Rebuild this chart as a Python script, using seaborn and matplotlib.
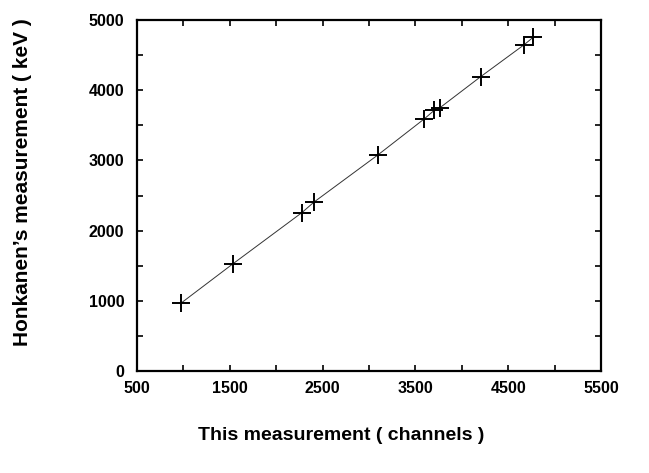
import matplotlib
matplotlib.use("Agg")
import matplotlib.pyplot as plt
import seaborn as sns
import pandas as pd
from matplotlib.ticker import MultipleLocator, FixedLocator

# channel positions (this measurement) vs Honkanen energies (keV)
channels = [970, 1530, 2275, 2410, 3095, 3595, 3705, 3765, 4205, 4670, 4770]
energies = [965, 1525, 2255, 2410, 3077, 3590, 3715, 3750, 4193, 4644, 4753]
x_ticks = [500, 1500, 2500, 3500, 4500, 5500]
y_ticks = [0, 1000, 2000, 3000, 4000, 5000]

df = pd.DataFrame({"channel": channels, "energy": energies})

sns.set_style("ticks")
plt.rcParams["font.family"] = ["Liberation Sans", "DejaVu Sans"]
plt.rcParams["font.weight"] = "bold"
plt.rcParams["text.color"] = "black"
plt.rcParams["xtick.labelcolor"] = "black"
plt.rcParams["ytick.labelcolor"] = "black"

fig = plt.figure(figsize=(6.49, 4.73), dpi=100)
ax = fig.add_axes([0.211, 0.215, 0.715, 0.743])

sns.lineplot(data=df, x="channel", y="energy", ax=ax, color="#333333",
             linewidth=0.7, sort=True)
sns.scatterplot(data=df, x="channel", y="energy", ax=ax, marker="+",
                s=160, color="black", linewidth=1.4, zorder=3)

ax.set_xlim(500, 5500)
ax.set_ylim(0, 5000)
ax.xaxis.set_major_locator(FixedLocator(x_ticks))
ax.xaxis.set_minor_locator(MultipleLocator(500))
ax.yaxis.set_major_locator(FixedLocator(y_ticks))
ax.yaxis.set_minor_locator(MultipleLocator(500))
ax.tick_params(which="both", direction="in", top=True, right=True,
               length=4, width=1.2, color="black")
ax.tick_params(axis="x", which="major", labelsize=11.5, pad=7)
ax.tick_params(axis="y", which="major", labelsize=11.5, pad=9)
for lab in ax.get_xticklabels() + ax.get_yticklabels():
    lab.set_fontweight("bold")
for sp in ax.spines.values():
    sp.set_linewidth(1.6)
    sp.set_color("black")

ax.set_xlabel("")
ax.set_ylabel("")
fig.text(0.525, 0.08, "This measurement ( channels )", ha="center",
         va="center", fontsize=14, fontweight="bold")
fig.text(0.034, 0.615, "Honkanen\u2019s measurement ( keV )", ha="center",
         va="center", rotation=90, fontsize=15, fontweight="bold")

fig.savefig("out.png", dpi=100)
